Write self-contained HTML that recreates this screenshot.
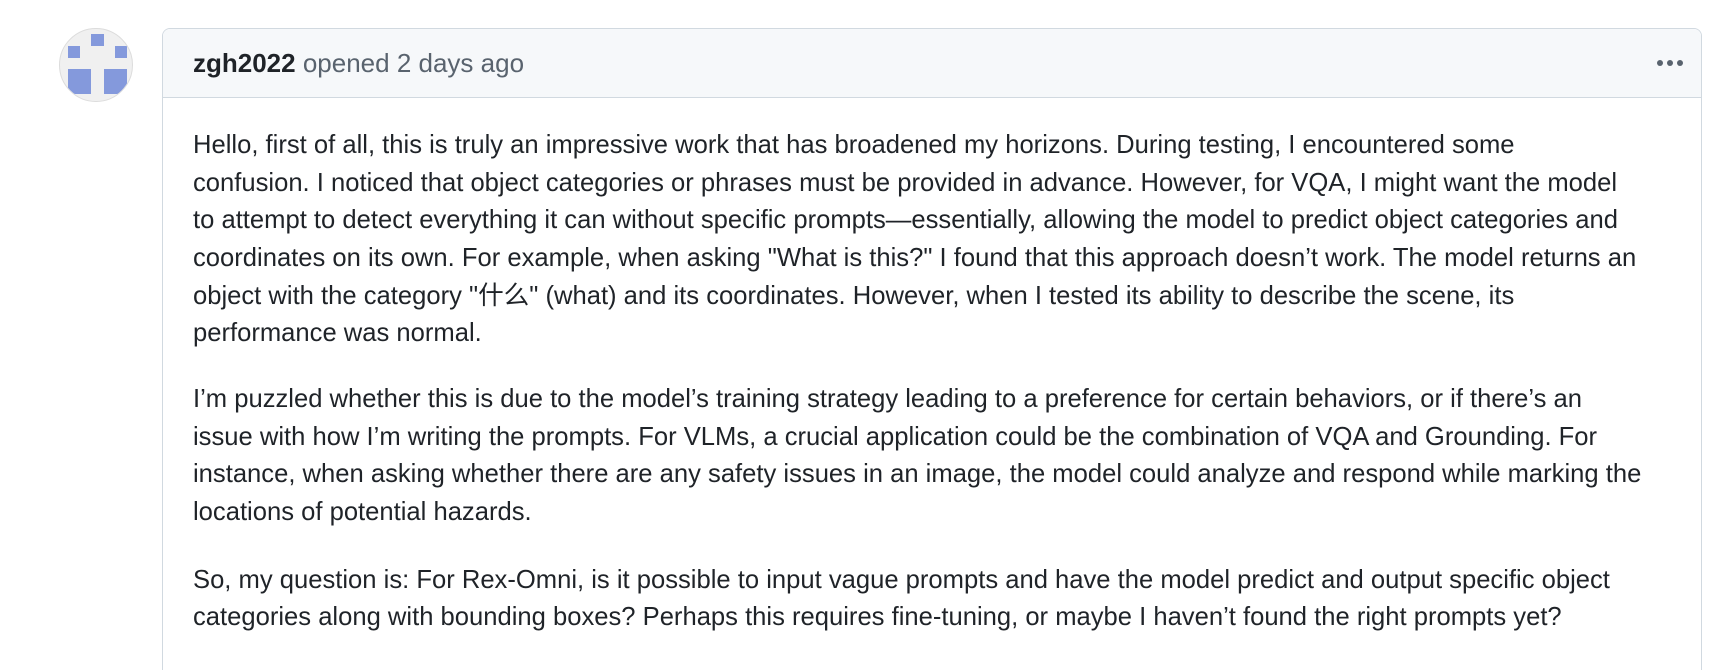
<!DOCTYPE html>
<html style="width:1710px;height:670px;overflow:hidden"><head><meta charset="utf-8"><style>
*{margin:0;padding:0;box-sizing:border-box}
body{width:1710px;height:670px;background:#fff;position:relative;overflow:hidden;font-family:"Liberation Sans","Noto Sans CJK SC",sans-serif;color:#1f2328}
.av{position:absolute;left:59px;top:28px;width:74px;height:74px;border-radius:50%;background:#f0f0f0;border:1px solid #dcdcdc;overflow:hidden}
.sq{position:absolute;background:#8499dc}
.box{position:absolute;left:162px;top:28px;width:1540px;height:660px;border:1px solid #d1d9e0;border-radius:8px;overflow:hidden}
.hd{height:69px;background:#f6f8fa;border-bottom:1px solid #d1d9e0;position:relative}
.hd .t{position:absolute;left:30px;top:21px;font-size:26px;color:#59636e;white-space:nowrap;line-height:1}
.hd b{color:#1f2328;font-weight:bold}
.dots{position:absolute;right:18px;top:24px}
.dots i{display:inline-block;width:6px;height:6px;border-radius:50%;background:#59636e;margin-left:4px}
.l{position:absolute;left:193px;font-size:25.6px;white-space:nowrap;line-height:1}
</style></head><body>
<div class="av">
<div class="sq" style="left:31px;top:5px;width:13px;height:12px"></div>
<div class="sq" style="left:8px;top:17px;width:12px;height:12px"></div>
<div class="sq" style="left:55px;top:17px;width:12px;height:12px"></div>
<div class="sq" style="left:8px;top:40px;width:23px;height:25px"></div>
<div class="sq" style="left:44px;top:40px;width:23px;height:25px"></div>
</div>
<div class="box"><div class="hd"><div class="t"><b>zgh2022</b> opened 2 days ago</div><div class="dots"><i></i><i></i><i></i></div></div></div>
<div class="l" style="top:133px">Hello, first of all, this is truly an impressive work that has broadened my horizons. During testing, I encountered some</div>
<div class="l" style="top:171px">confusion. I noticed that object categories or phrases must be provided in advance. However, for VQA, I might want the model</div>
<div class="l" style="top:208px">to attempt to detect everything it can without specific prompts—essentially, allowing the model to predict object categories and</div>
<div class="l" style="top:246px">coordinates on its own. For example, when asking "What is this?" I found that this approach doesn’t work. The model returns an</div>
<div class="l" style="top:284px">object with the category "什么" (what) and its coordinates. However, when I tested its ability to describe the scene, its</div>
<div class="l" style="top:321px">performance was normal.</div>
<div class="l" style="top:387px">I’m puzzled whether this is due to the model’s training strategy leading to a preference for certain behaviors, or if there’s an</div>
<div class="l" style="top:425px">issue with how I’m writing the prompts. For VLMs, a crucial application could be the combination of VQA and Grounding. For</div>
<div class="l" style="top:462px">instance, when asking whether there are any safety issues in an image, the model could analyze and respond while marking the</div>
<div class="l" style="top:500px">locations of potential hazards.</div>
<div class="l" style="top:568px">So, my question is: For Rex-Omni, is it possible to input vague prompts and have the model predict and output specific object</div>
<div class="l" style="top:605px">categories along with bounding boxes? Perhaps this requires fine-tuning, or maybe I haven’t found the right prompts yet?</div>
</body></html>
